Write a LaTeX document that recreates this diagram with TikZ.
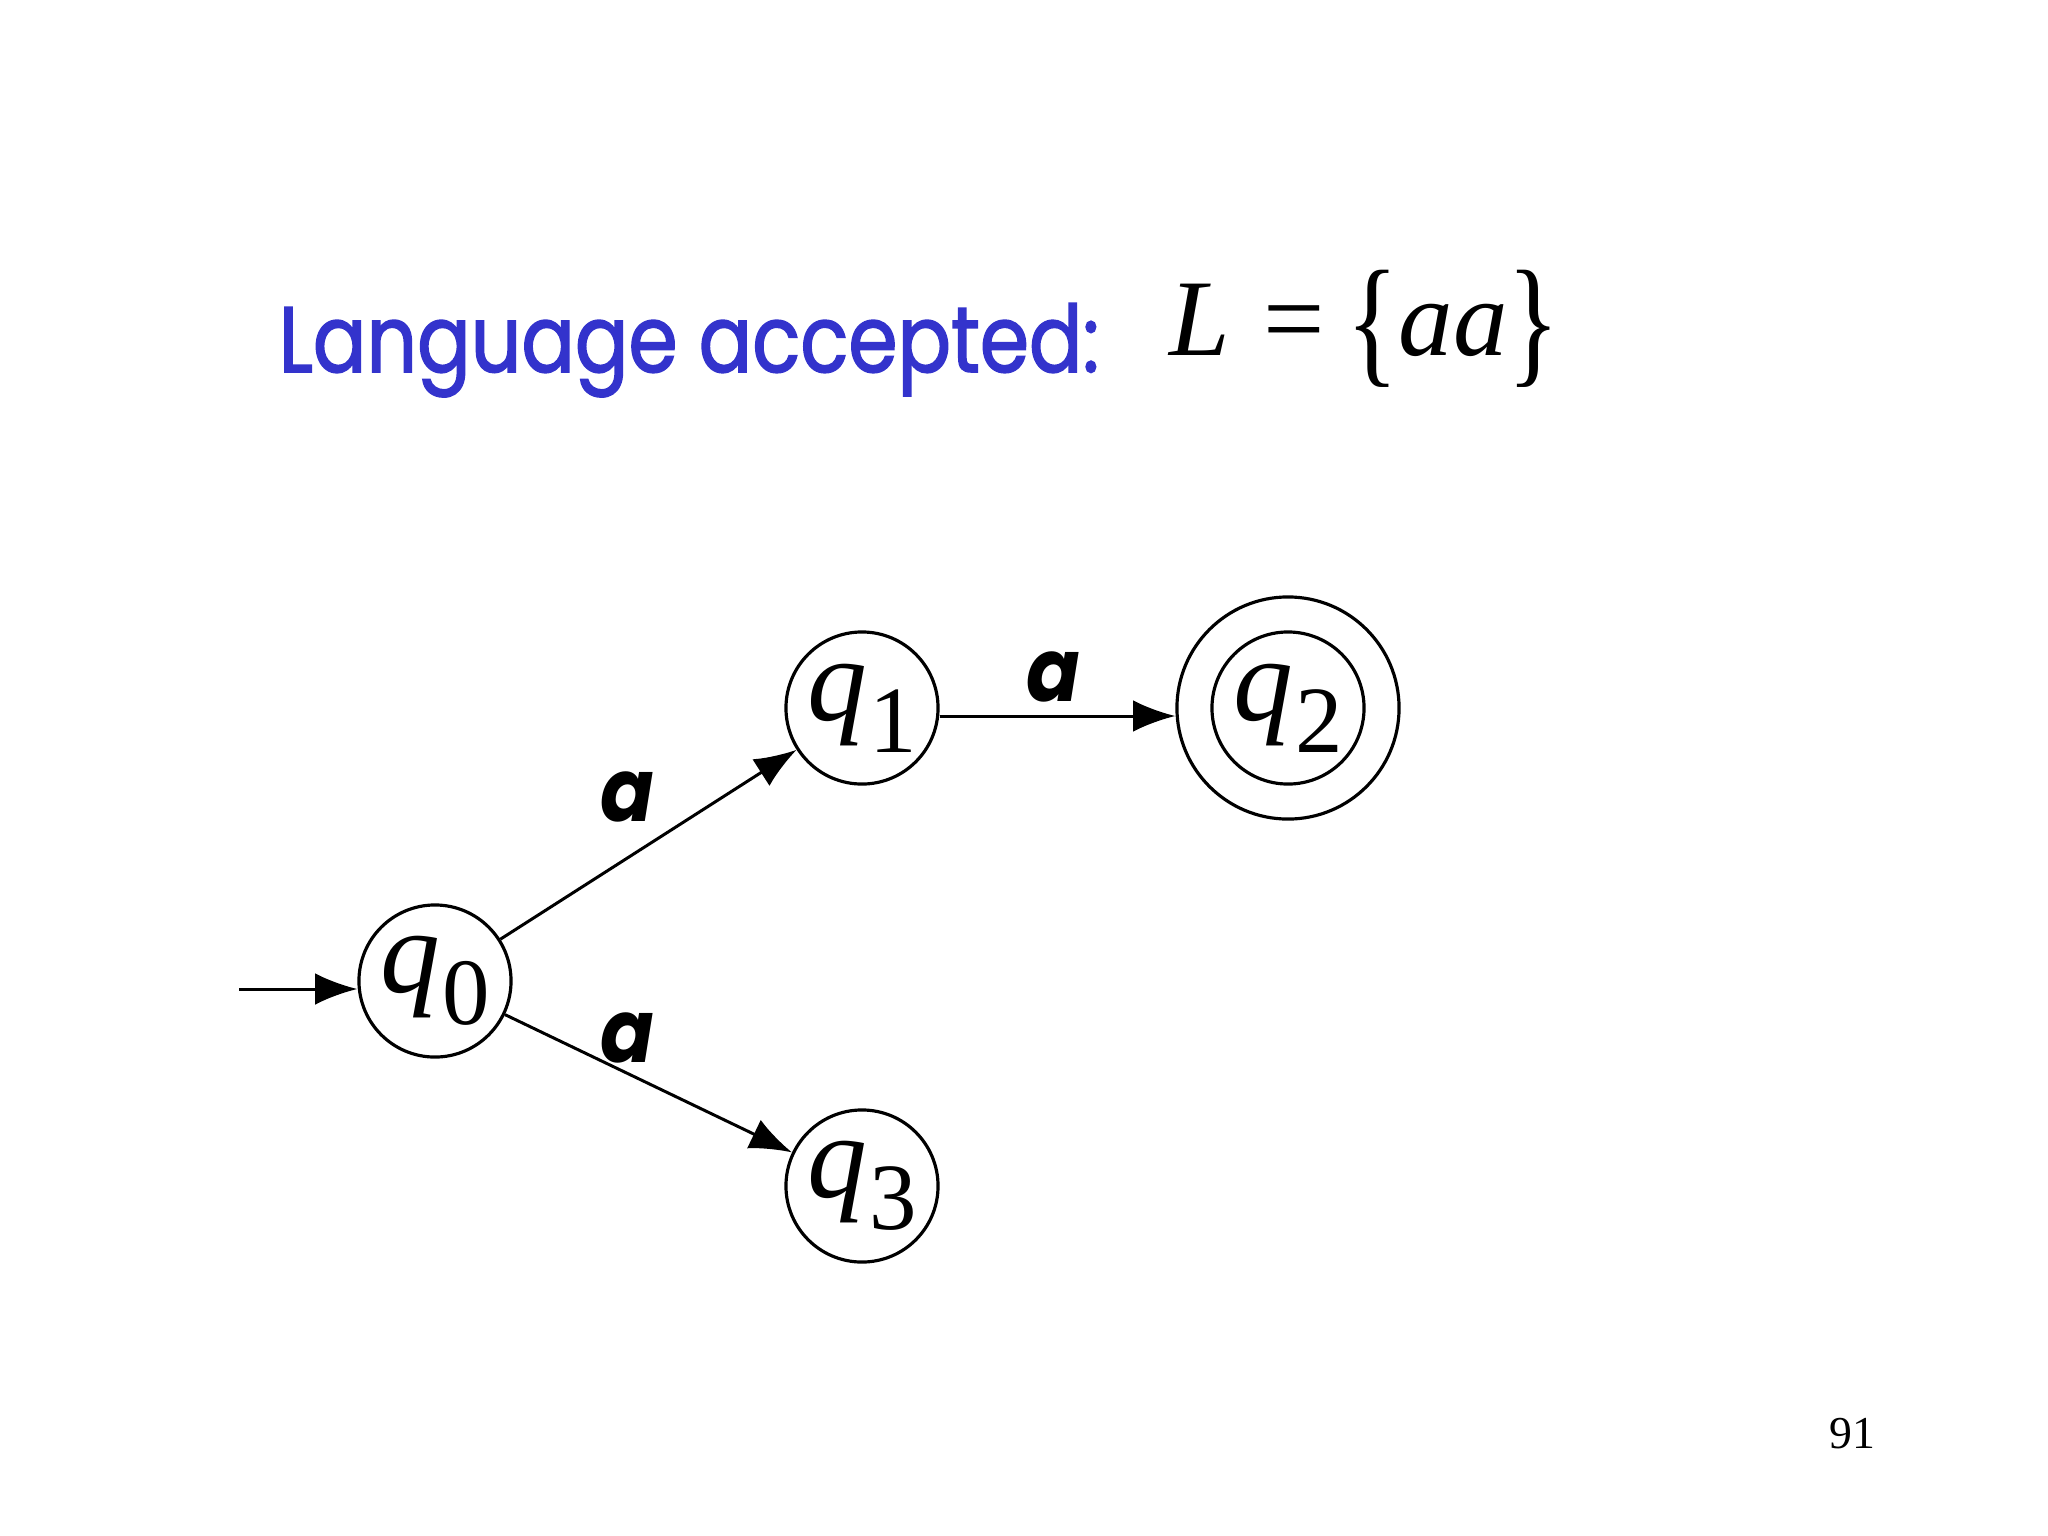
\documentclass[tikz,border=0pt]{standalone}
\usepackage{fontspec}
\usetikzlibrary{arrows.meta}
\newfontfamily\titlefont[FakeStretch=0.85,FakeBold=1.6]{Poppins}
\newfontfamily\labfont[FakeStretch=0.9]{Poppins}
\newfontfamily\timesfont{Liberation Serif}
\definecolor{titleblue}{RGB}{51,51,204}
\newcommand{\qlab}[1]{{\timesfont\itshape q}\kern0.02em\raisebox{-9pt}{\fontsize{27}{27}\selectfont #1}}
\newcommand{\tallbrace}[1]{\raisebox{-0.12em}{\scalebox{1}[1.3]{#1}}}
\tikzset{
    state/.style={draw, circle, line width=0.9pt, minimum size=1.52cm, inner sep=0pt, font=\timesfont\fontsize{34}{34}\selectfont},
    edge/.style={-{Latex[length=12pt,width=9pt]}, line width=0.85pt},
    sym/.style={font=\labfont\fontsize{25}{25}\selectfont\bfseries\itshape}
}
\begin{document}
\begin{tikzpicture}[x=0.01cm, y=-0.01cm]
        \useasboundingbox[fill=white] (0,0) rectangle (2048,1536);
        \node[anchor=base west, inner sep=0pt, text=titleblue, font=\titlefont\fontsize{26.5}{26.5}\selectfont] (title) at (278,372) {Language accepted:};
        \node[anchor=base west, inner sep=0pt, font=\timesfont\fontsize{31}{31}\selectfont] (lang) at (1169,355) {\textit{L}\hspace{0.3em}=\hspace{0.2em}\tallbrace{\{}\textit{aa}\tallbrace{\}}};
        \node[state] (q0) at (435,981) {\qlab{0}};
        \node[state] (q1) at (862,708) {\qlab{1}};
        \node[state] (q3) at (862,1186) {\qlab{3}};
        \node[state, minimum size=2.22cm] (q2) at (1288,708) {};
        \node[state] (q2in) at (1288,708) {\qlab{2}};
        \coordinate (start) at (239,989);
        \draw[edge] (start) -- (q0.west |- start);
        \draw[edge] (q0) -- (q1);
        \draw[edge] (q0) -- (q3);
        \draw[edge] (q1.east |- 0,716) -- (q2.west |- 0,716);
        \node[sym] (a1) at (627,797) {a};
        \node[sym] (a2) at (627,1038) {a};
        \node[sym] (a3) at (1053,677) {a};
        \node[font=\timesfont\fontsize{13}{13}\selectfont] (page) at (1852,1434) {91};
    \end{tikzpicture}
\end{document}
